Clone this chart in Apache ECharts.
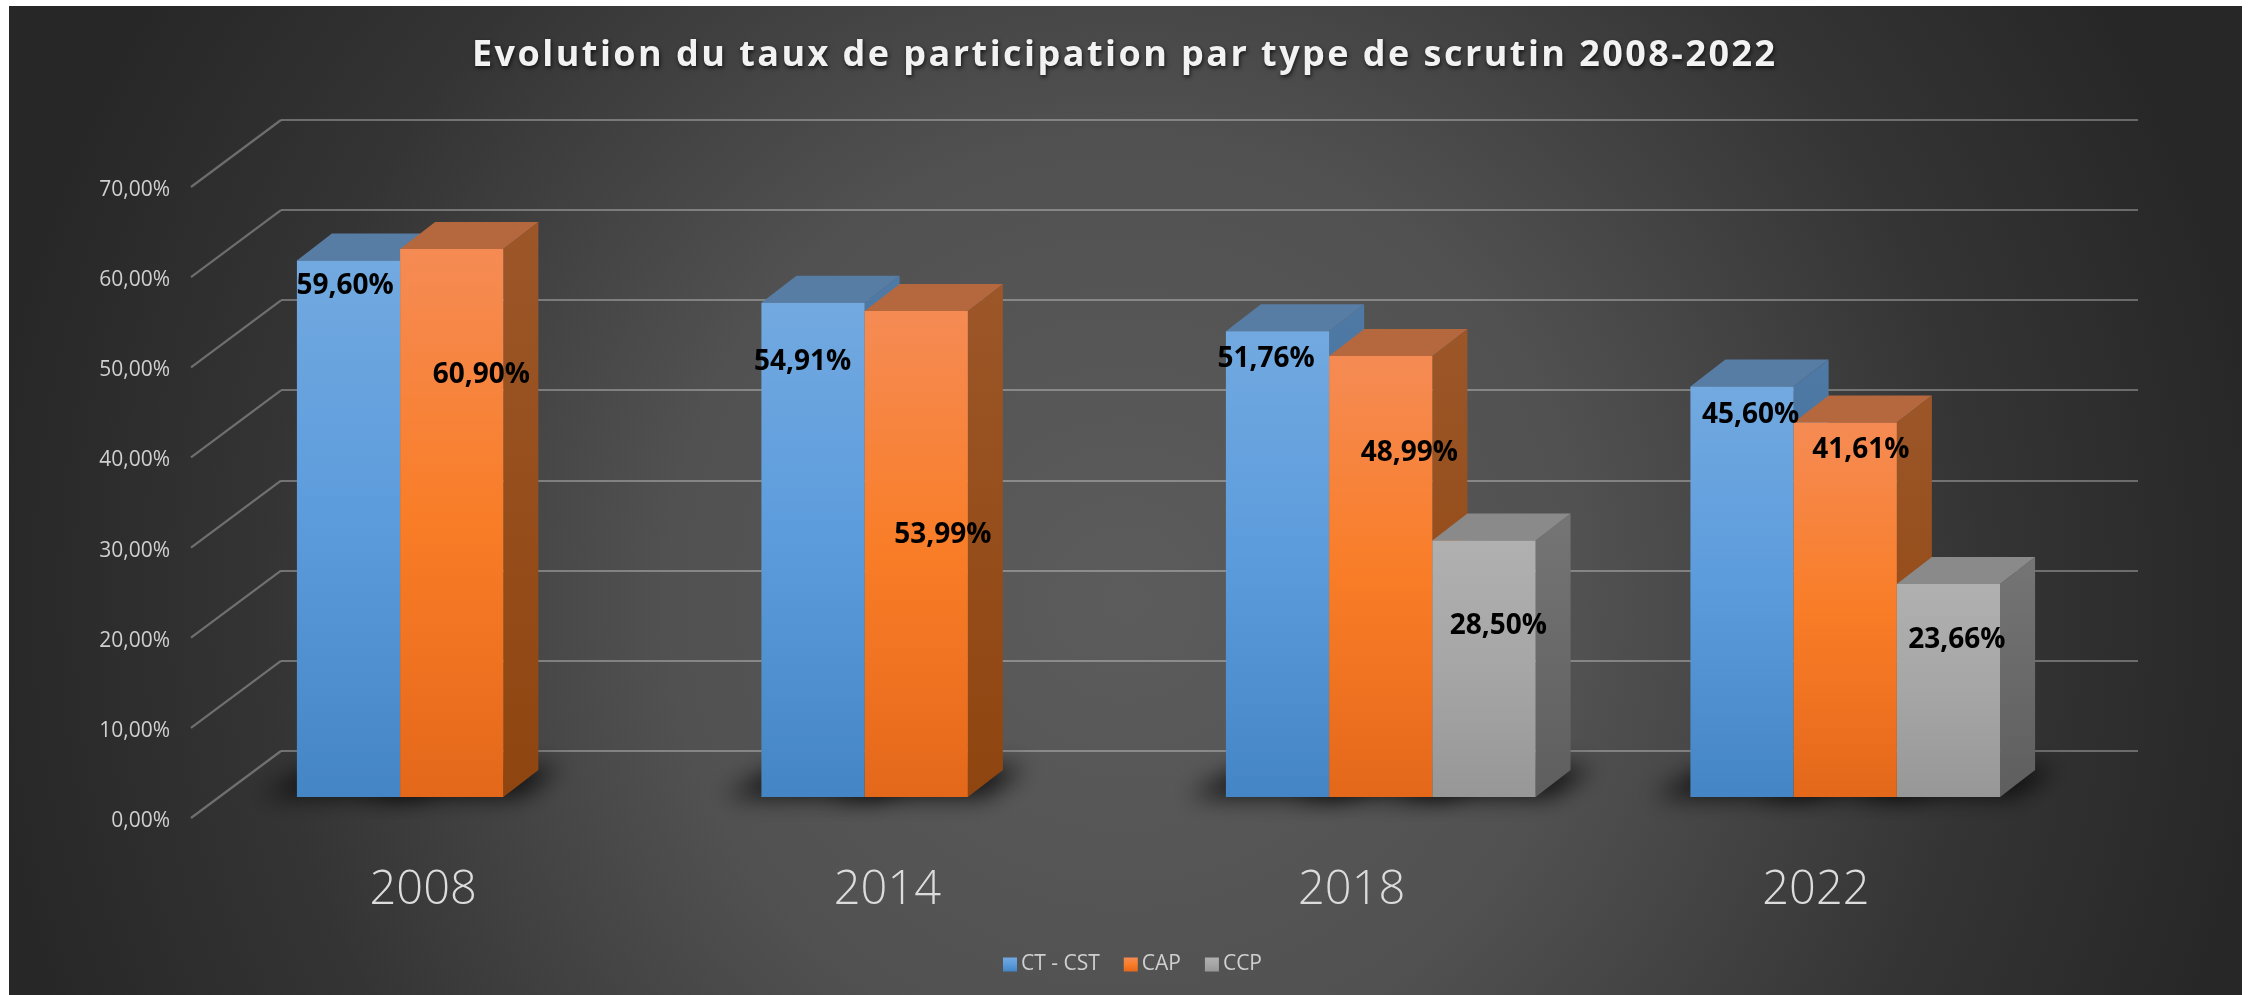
<!DOCTYPE html>
<html><head><meta charset="utf-8">
<style>html,body{margin:0;padding:0;background:#fff}#c{width:2254px;height:995px}</style>
<script src="https://cdn.jsdelivr.net/npm/echarts@6/dist/echarts.min.js"></script>
</head><body><div id="c"></div>
<script>
const categories = ['2008','2014','2018','2022'];
const ctCst = [59.60,54.91,51.76,45.60];
const cap   = [60.90,53.99,48.99,41.61];
const ccp   = [null,null,28.50,23.66];
const yTicks = [0,10,20,30,40,50,60,70];

// hand-placed label nudges from the bar's top centre, as in the reference
const labelNudge = {
  ct:[[-4,23],[-11,57],[-12,26],[8,26]],
  cap:[[29,124],[26,222],[28,95],[15,26]],
  ccp:[null,null,[14,84],[8,54]]
};
const DX=35, DY=27;            // oblique depth of a bar
const FONT='"Open Sans"';
const chart=echarts.init(document.getElementById('c'));
const grad=(stops)=>({type:'linear',x:0,y:0,x2:0,y2:1,colorStops:stops.map((c,i)=>({offset:i/(stops.length-1),color:c}))});
const looks={
 ct:{front:['#72a9e0','#5b9bdc','#4485c6'],top:'#587da5',side:['#4f7aa6','#33608e']},
 cap:{front:['#f58b54','#f97d27','#e4681a'],top:'#b5683e',side:['#9c5628','#8f450f']},
 ccp:{front:['#b0b0b0','#a6a6a6','#979797'],top:'#8a8a8a',side:['#757575','#5e5e5e']}
};
function barBox(api,slot){
  const cat=api.value(0), val=api.value(1);
  const c=api.coord([cat,val]), b=api.coord([cat,0]);
  const band=api.size([1,0])[0];
  const w=band*2/9;
  const l=c[0]-1.5*w+slot*w;
  return {l,r:l+w,t:c[1],b:b[1],cx:l+w/2};
}
function barSeries(name,values,key,slot,z){
  const look=looks[key];
  return {type:'custom',name,coordinateSystem:'cartesian2d',xAxisIndex:0,yAxisIndex:0,z,animation:false,silent:true,
    itemStyle:{color:grad(look.front)},
    encode:{x:0,y:1},
    data:values.map((v,i)=>[i,v]).filter(d=>d[1]!==null),
    renderItem(params,api){
      const o=barBox(api,slot);
      return {type:'group',children:[
        {type:'polygon',shape:{points:[[o.r,o.t],[o.r+DX,o.t-DY],[o.r+DX,o.b-DY],[o.r,o.b]]},style:{fill:grad(look.side)}},
        {type:'polygon',shape:{points:[[o.l,o.t],[o.l+DX,o.t-DY],[o.r+DX,o.t-DY],[o.r,o.t]]},style:{fill:look.top}},
        {type:'rect',shape:{x:o.l,y:o.t,width:o.r-o.l,height:o.b-o.t},style:{fill:grad(look.front)}}
      ]};
    }};
}
const OFF=4000; // the caster sits off-canvas so only its soft shadow shows
function shadowSeries(values,slot){
  return {type:'custom',name:'ombre'+slot,coordinateSystem:'cartesian2d',xAxisIndex:0,yAxisIndex:0,z:2,animation:false,silent:true,
    encode:{x:0,y:1},
    data:values.map((v,i)=>[i,v]).filter(d=>d[1]!==null),
    renderItem(params,api){
      const o=barBox(api,slot);
      return {type:'polygon',shape:{points:[[o.l-38-OFF,o.b-1],[o.r+16-OFF,o.b-1],[o.r+58-OFF,o.b-30],[o.l+20-OFF,o.b-30]]},
        style:{fill:'#0c0c0c',shadowBlur:24,shadowColor:'#0c0c0c',shadowOffsetX:OFF}};
    }};
}
function labelSeries(values,key,slot){
  return {type:'custom',name:'val'+key,coordinateSystem:'cartesian2d',xAxisIndex:0,yAxisIndex:0,z:20,animation:false,silent:true,
    encode:{x:0,y:1},
    data:values.map((v,i)=>[i,v]).filter(d=>d[1]!==null),
    renderItem(params,api){
      const o=barBox(api,slot), n=labelNudge[key][api.value(0)];
      return {type:'text',x:o.cx+n[0]+0.5,y:o.t+n[1]+2,style:{text:api.value(1).toFixed(2).replace('.',',')+'%',
        fill:'#000',font:'bold 28px '+FONT,align:'center',verticalAlign:'middle'}};
    }};
}
const wallSide={type:'custom',name:'parois',coordinateSystem:'cartesian2d',xAxisIndex:2,yAxisIndex:2,z:1,animation:false,silent:true,
  encode:{x:0,y:1},data:yTicks.map(t=>[0,t]),
  renderItem(params,api){
    const p=api.coord([0,api.value(1)]), band=api.size([1,0])[0], x=p[0]-band/2;
    return {type:'line',shape:{x1:x,y1:p[1]-3,x2:x+90,y2:p[1]-70},style:{stroke:'rgba(255,255,255,0.3)',lineWidth:2.2}};
  }};
const hideAxis={axisLine:{show:false},axisTick:{show:false},axisLabel:{show:false},splitLine:{show:false}};
chart.setOption({
  animation:false,
  graphic:[{type:'rect',z:-10,silent:true,shape:{x:9,y:6,width:2233,height:989},
    style:{fill:{type:'radial',x:0.5,y:0.6,r:1.16,colorStops:[{offset:0,color:'#5c5c5c'},{offset:0.4,color:'#515151'},{offset:0.75,color:'#343434'},{offset:1,color:'#272727'}]}}}],
  title:{text:'Evolution du taux de participation par type de scrutin 2008-2022',left:467,top:33,zlevel:5,
    textStyle:{color:'#f2f2f2',fontFamily:FONT,fontWeight:'bold',fontSize:36,textShadowColor:'rgba(0,0,0,0.7)',textShadowBlur:4,textShadowOffsetX:1,textShadowOffsetY:2}},
  legend:{left:998,top:949,itemWidth:14,itemHeight:14,itemGap:24,icon:'rect',data:['CT - CST','CAP','CCP'],
    textStyle:{color:'#d0d0d0',fontFamily:FONT,fontSize:21,padding:[0,0,0,-1]}},
  grid:[
    {left:219.5,width:1858,top:167,height:630},
    {left:281,width:1857,top:119.5,height:631.5},
    {left:191,width:1857,top:190,height:631}
  ],
  xAxis:[
    {type:'category',gridIndex:0,data:categories,...hideAxis},
    {type:'category',gridIndex:1,data:categories,...hideAxis},
    {type:'category',gridIndex:2,data:categories,axisLine:{show:false},axisTick:{show:false},splitLine:{show:false},
      axisLabel:{color:'#dcdcdc',fontFamily:FONT,fontWeight:300,fontSize:47,margin:46}}
  ],
  yAxis:[
    {type:'value',gridIndex:0,min:0,max:70,interval:10,...hideAxis},
    {type:'value',gridIndex:1,min:0,max:70,interval:10,axisLine:{show:false},axisTick:{show:false},axisLabel:{show:false},
      splitLine:{show:true,lineStyle:{color:'rgba(255,255,255,0.3)',width:2.2}}},
    {type:'value',gridIndex:2,min:0,max:70,interval:10,axisLine:{show:false},axisTick:{show:false},splitLine:{show:false},
      axisLabel:{color:'#d0d0d0',fontFamily:FONT,fontSize:21,margin:21,formatter:v=>v.toFixed(2).replace('.',',')+'%'}}
  ],
  series:[
    wallSide,
    shadowSeries(ctCst,0),shadowSeries(cap,1),shadowSeries(ccp,2),
    barSeries('CT - CST',ctCst,'ct',0,5),
    barSeries('CAP',cap,'cap',1,6),
    barSeries('CCP',ccp,'ccp',2,7),
    labelSeries(ctCst,'ct',0),labelSeries(cap,'cap',1),labelSeries(ccp,'ccp',2)
  ]
});
// the title of the reference is tracked out: its own canvas layer takes the spacing
const titleLayer=chart.getZr().painter.getLayer(5);
if(titleLayer&&titleLayer.ctx&&'letterSpacing' in titleLayer.ctx){
  titleLayer.ctx.letterSpacing='2.45px';
  chart.getZr().painter.refresh(true);
}
</script></body></html>
